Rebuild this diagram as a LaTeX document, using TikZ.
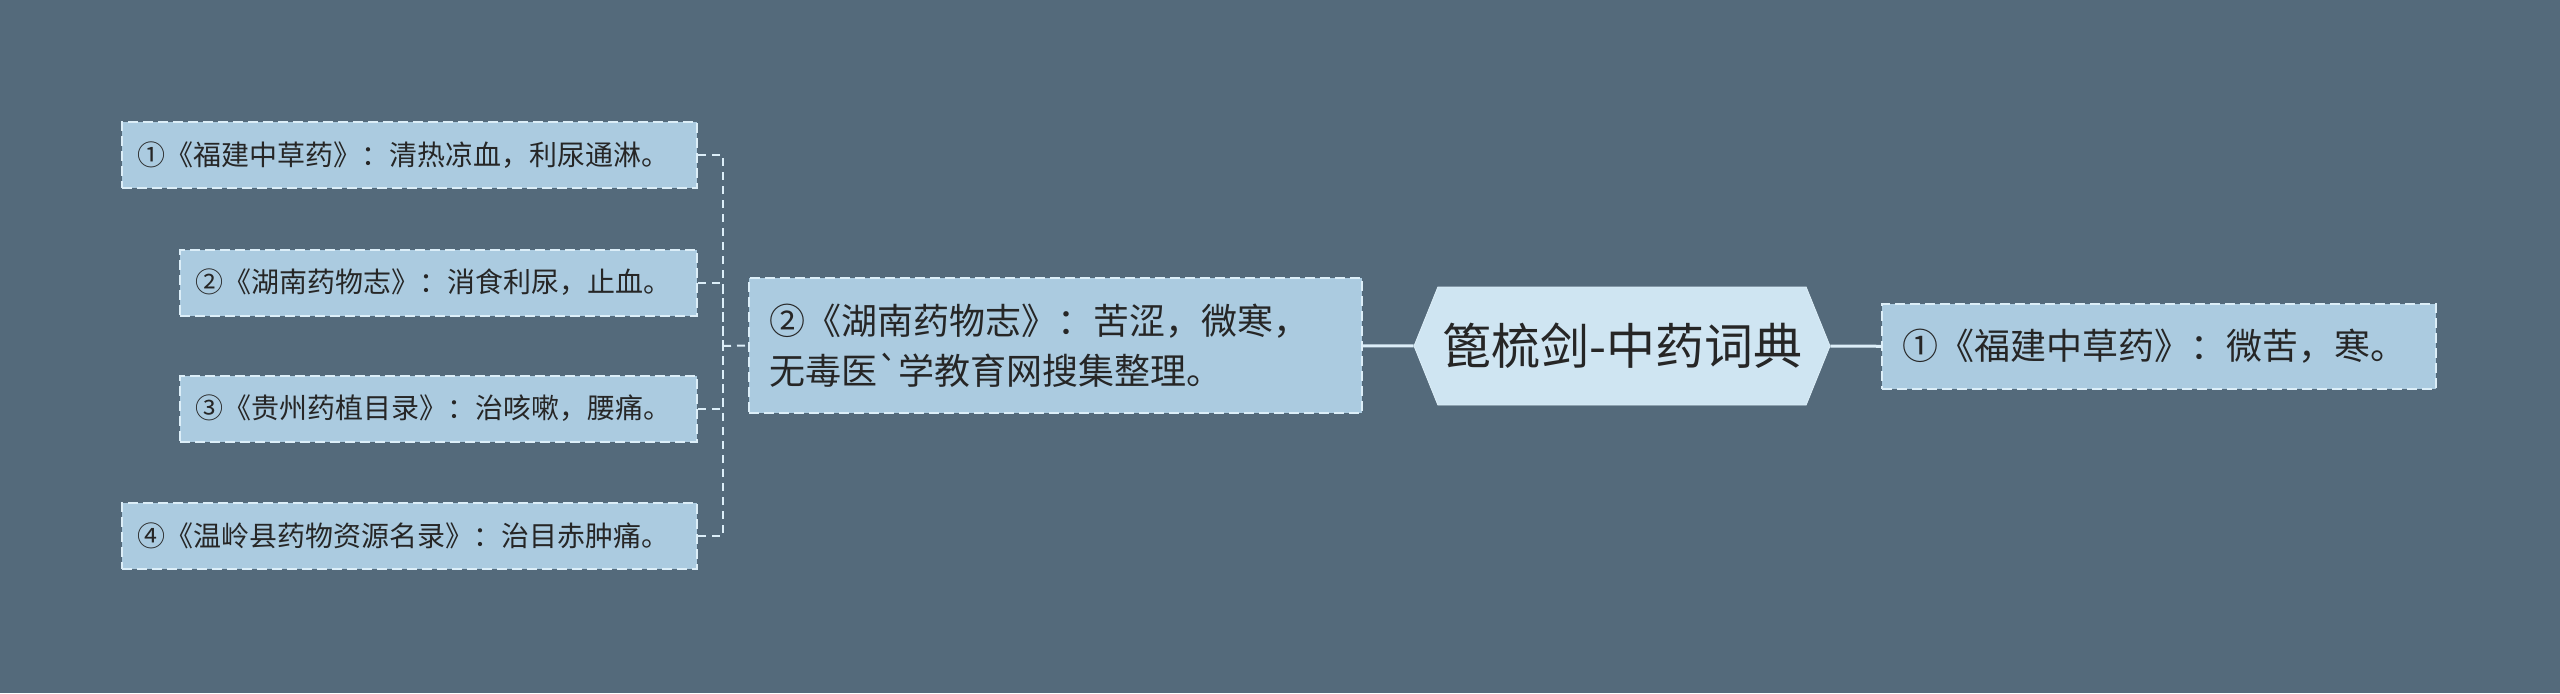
\documentclass[tikz,border=0pt]{standalone}
\usepackage{fontspec}
\setmainfont{Noto Sans CJK SC}[Ligatures=TeXOff]
\usetikzlibrary{shapes.symbols,positioning}
\definecolor{bgslate}{HTML}{546A7B}
\definecolor{leafblue}{HTML}{ABCBE0}
\definecolor{rootblue}{HTML}{CFE5F2}
\definecolor{edgeline}{HTML}{DCEEF8}
\definecolor{inkdark}{HTML}{262626}
\tikzset{
  rootbox/.style={ draw=edgeline, fill=rootblue, signal, signal to=east and west,
    signal pointer angle=136, minimum width=208pt, minimum height=59pt,
    inner sep=0pt, text=inkdark, font=\fontsize{24.5}{28}\selectfont }
}
\tikzset{
  subbox/.style={ draw=edgeline, fill=leafblue, line width=1pt,
    dash pattern=on 5pt off 2.5pt, text=inkdark, align=left }
}
\tikzset{
  leafbox/.style={ subbox, text width=#1, inner xsep=7.5pt, minimum height=33pt,
    font=\fontsize{14}{17}\selectfont }
}
\tikzset{
  trunk/.style={ draw=edgeline, line width=1.5pt }
}
\tikzset{
  twig/.style={ draw=edgeline, line width=1pt, dash pattern=on 4pt off 3pt }
}

\begin{document}
\begin{tikzpicture}[x=0.5pt, y=-0.5pt]
  \fill[bgslate] (0,0) rectangle (2560,693);

  \node[rootbox] (root) at (1622, 346) {篦梳剑-中药词典};

  \node[subbox, inner xsep=10pt, text width=257pt, minimum height=42.5pt,
        font=\fontsize{18}{22}\selectfont] (fujian) at (2159, 346.5)
        {①《福建中草药》：微苦，寒。};

  \node[subbox, inner xsep=10pt, text width=286.5pt, minimum height=67.5pt,
        font=\fontsize{18}{25}\selectfont] (hunan) at (1055.5, 345.5)
        {②《湖南药物志》：苦涩，微寒，\\无毒医`学教育网搜集整理。};

  \node[leafbox=272.5pt] (l1) at (409.5, 155) {①《福建中草药》：清热凉血，利尿通淋。};
  \node[leafbox=243.5pt] (l2) at (438.5, 282.5) {②《湖南药物志》：消食利尿，止血。};
  \node[leafbox=243.5pt] (l3) at (438.5, 408.5) {③《贵州药植目录》：治咳嗽，腰痛。};
  \node[leafbox=272.5pt] (l4) at (409.5, 535.5) {④《温岭县药物资源名录》：治目赤肿痛。};

  \coordinate (fork) at (723, 346);

  \draw[trunk] (root) -- (fujian);
  \draw[trunk] (root) -- (hunan);
  \draw[twig] (fork) -- (hunan.west);
  \foreach \leaf in {l1,l2,l3,l4}
    \draw[twig] (\leaf.east) -| (fork);
\end{tikzpicture}
\end{document}
